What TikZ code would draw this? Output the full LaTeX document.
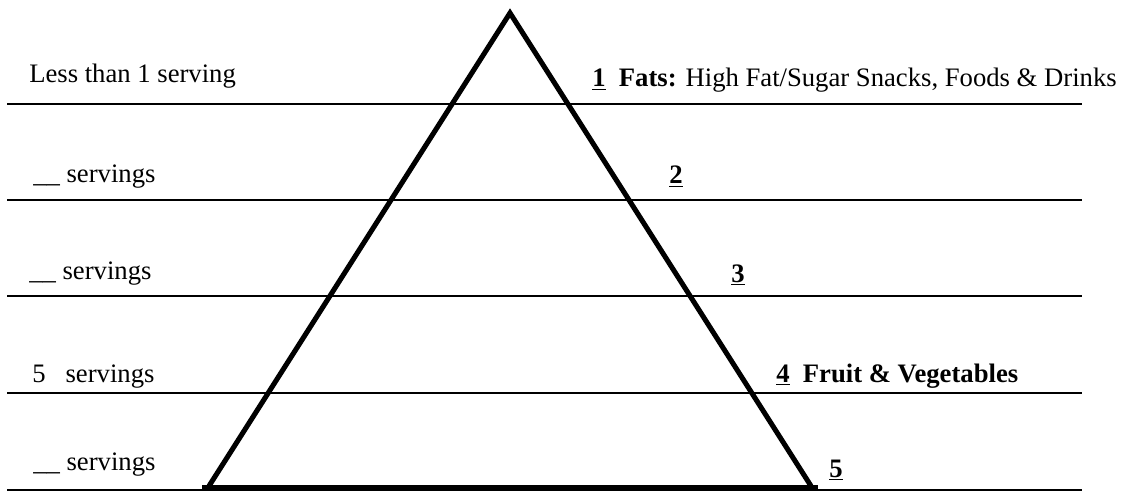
\documentclass[tikz,border=0pt]{standalone}
\usepackage{fontspec}
\setmainfont{Liberation Serif}
\begin{document}
\begin{tikzpicture}[x=0.75pt,y=-0.75pt,
  rule/.style={line width=1.9pt},
  tri/.style={line width=3.8pt, line join=miter},
  basebar/.style={line width=4.6pt},
  lbl/.style={anchor=base west, inner sep=0pt, font=\fontsize{20}{24}\selectfont}]
\useasboundingbox (0,0) rectangle (1123,491);
% horizontal rules
\foreach \y in {104,200,296,393,490} \draw[rule] (7,\y) -- (1082,\y);
% pyramid
\coordinate (apex) at (510,13);
\coordinate (bl) at (209,486);
\coordinate (br) at (811,486);
\coordinate (bL) at (202,488);
\coordinate (bR) at (818,488);
\draw[tri] (bl) -- (apex) -- (br);
\draw[basebar] (bL) -- (bR);
% left labels
\node[lbl] (less) at (29,83) {Less than 1 serving};
\node[lbl] (s2) at (33,183) {\_\_ servings};
\node[lbl] (s3) at (29,280) {\_\_ servings};
\node[lbl] (s4) at (32,382) {5\ \ \ servings};
\node[lbl] (s5) at (33,470) {\_\_ servings};
% right labels
\node[lbl] (n1) at (592,87) {\underline{\textbf{1}}\ \ \textbf{Fats:} High Fat/Sugar Snacks, Foods \& Drinks};
\node[lbl] (n2) at (669,184) {\underline{\textbf{2}}};
\node[lbl] (n3) at (731,282) {\underline{\textbf{3}}};
\node[lbl] (n4) at (776,382) {\underline{\textbf{4}}\ \ \textbf{Fruit \& Vegetables}};
\node[lbl] (n5) at (829,477) {\underline{\textbf{5}}};
\end{tikzpicture}
\end{document}
